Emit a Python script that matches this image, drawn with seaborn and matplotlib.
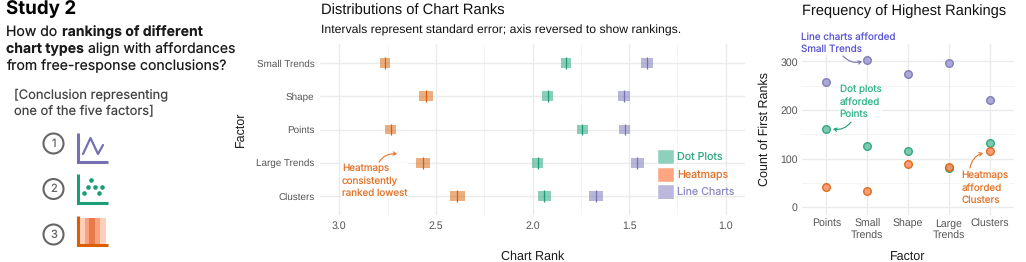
import matplotlib
matplotlib.use("Agg")
import matplotlib.pyplot as plt
from matplotlib.patches import Patch, Circle, Rectangle, FancyArrowPatch
import pandas as pd
import seaborn as sns

# data
factors = ["Small Trends", "Shape", "Points", "Large Trends", "Clusters"]
dot_rank = [1.827, 1.921, 1.742, 1.974, 1.939]
dot_se = [0.027, 0.029, 0.029, 0.028, 0.034]
heat_rank = [2.763, 2.553, 2.734, 2.568, 2.389]
heat_se = [0.026, 0.036, 0.028, 0.035, 0.040]
line_rank = [1.407, 1.525, 1.523, 1.457, 1.671]
line_se = [0.029, 0.031, 0.030, 0.032, 0.034]

count_factors = ["Points", "Small\nTrends", "Shape", "Large\nTrends", "Clusters"]
dot_count = [161, 127, 115, 80, 132]
heat_count = [42, 33, 90, 82, 116]
line_count = [258, 303, 274, 296, 221]

charts = ["Dot Plots", "Heatmaps", "Line Charts"]
colors = {"Dot Plots": "#1b9e77", "Heatmaps": "#d95f02", "Line Charts": "#7570b3"}
dot_fill = {"Dot Plots": "#66c2a5", "Heatmaps": "#fc8d62", "Line Charts": "#9d9bd0"}
legend_fill = {"Dot Plots": "#8dd0bb", "Heatmaps": "#fda681", "Line Charts": "#bcb8dc"}
legend_text = {"Dot Plots": "#2fa883", "Heatmaps": "#e2732b", "Line Charts": "#8f8ac5"}

sns.set_theme(style="white")
plt.rcParams["font.family"] = ["Liberation Sans", "DejaVu Sans"]
plt.rcParams["text.hinting"] = "none"

W, H = 1026, 262
fig = plt.figure(figsize=(W / 100, H / 100), dpi=100)


def make_axes(left, top, right, bottom):
    return fig.add_axes([left / W, 1 - bottom / H, (right - left) / W, (bottom - top) / H])


def style_axes(ax):
    sns.despine(ax=ax, left=True, bottom=True)
    ax.tick_params(length=0, labelsize=7.6, labelcolor="#555555", pad=3)
    ax.tick_params(which="minor", length=0)
    ax.set_axisbelow(True)


def note(text, x, y, color):
    fig.text(x / W, 1 - y / H, text, fontsize=7.1, family="Inter", color=color, va="center", ha="left",
             linespacing=1.38, bbox=dict(facecolor="white", edgecolor="none", pad=0.5), zorder=6)


def curve(x0, y0, x1, y1, color, rad):
    fig.add_artist(FancyArrowPatch(
        (x0 / W, 1 - y0 / H), (x1 / W, 1 - y1 / H), transform=fig.transFigure,
        arrowstyle="->,head_length=2,head_width=1.2", color=color, lw=0.8,
        connectionstyle=f"arc3,rad={rad}", zorder=7, shrinkA=0, shrinkB=0))


# --- middle panel
ranks = pd.DataFrame({
    "factor": factors * 3,
    "chart": [c for c in charts for _ in factors],
    "rank": dot_rank + heat_rank + line_rank,
    "se": dot_se + heat_se + line_se,
})
ax = make_axes(320, 44, 745, 215)
sns.stripplot(data=ranks, x="rank", y="factor", order=factors, hue="chart", palette=colors,
              jitter=False, marker="|", s=8.6, linewidth=0.9, legend=False, ax=ax, zorder=4)
for _, r in ranks.iterrows():
    ax.barh(factors.index(r["factor"]), 2 * r["se"], left=r["rank"] - r["se"], height=0.29,
            color=colors[r["chart"]], alpha=0.5, linewidth=0, zorder=3)
ax.set_xlim(3.1, 0.9)
ax.set_ylim(4.57, -0.57)
ax.set_xticks([3.0, 2.5, 2.0, 1.5, 1.0], ["3.0", "2.5", "2.0", "1.5", "1.0"])
ax.set_xticks([2.75, 2.25, 1.75, 1.25], minor=True)
ax.grid(True, which="major", color="#ebebeb", linewidth=1.0)
ax.grid(True, which="minor", axis="x", color="#f0f0f0", linewidth=0.5)
style_axes(ax)
ax.tick_params(axis="y", labelsize=7.1, pad=4)
ax.tick_params(axis="x", pad=4)
ax.set_xlabel("Chart Rank", fontsize=9.0, color="#1a1a1a", labelpad=14)
ax.set_ylabel("Factor", fontsize=9.0, color="#1a1a1a", labelpad=6)
handles = [Patch(facecolor=legend_fill[c], label=c) for c in charts]
leg = ax.legend(handles=handles, frameon=False, loc="lower left", bbox_to_anchor=(0.793, 0.094),
                fontsize=7.7, handlelength=1.6, handleheight=1.8, labelspacing=0.2, handletextpad=0.25,
                borderpad=0.0, borderaxespad=0)
for t, c in zip(leg.get_texts(), charts):
    t.set_color(legend_text[c])
    t.set_fontfamily("Inter")
fig.add_artist(Rectangle((658 / W, 1 - 199 / H), 16 / W, 1.3 / H, transform=fig.transFigure,
                         fc=legend_fill["Line Charts"], ec="none", zorder=5))
note("Heatmaps\nconsistently\nranked lowest", 342, 181, legend_text["Heatmaps"])
curve(379, 162, 397, 154, legend_text["Heatmaps"], -0.3)

# --- right panel
counts = pd.DataFrame({
    "factor": count_factors * 3,
    "chart": [c for c in charts for _ in count_factors],
    "count": dot_count + heat_count + line_count,
})
ax2 = make_axes(802, 44, 1014, 215)
for c in charts:
    sns.stripplot(data=counts[counts["chart"] == c], x="factor", y="count", order=count_factors,
                  color=dot_fill[c], edgecolor=colors[c], jitter=False, s=5.5, linewidth=1.0, alpha=0.85,
                  legend=False, ax=ax2, zorder=3)
ax2.set_xlim(-0.6, 4.6)
ax2.set_ylim(-16, 336)
ax2.set_yticks([0, 100, 200, 300])
ax2.set_yticks([50, 150, 250], minor=True)
ax2.grid(True, which="major", color="#ebebeb", linewidth=1.0)
ax2.grid(True, which="minor", axis="y", color="#f0f0f0", linewidth=0.5)
style_axes(ax2)
ax2.set_xlabel("Factor", fontsize=9.0, color="#1a1a1a", labelpad=7)
ax2.set_ylabel("Count of First Ranks", fontsize=9.0, color="#1a1a1a", labelpad=7)

note("Line charts afforded\nSmall Trends", 801, 43.5, "#5a55d6")
curve(843, 56, 862, 61.5, colors["Line Charts"], 0.3)
note("Dot plots\nafforded\nPoints", 839.5, 102, "#2fb388")
curve(851, 122, 833, 129, colors["Dot Plots"], -0.3)
note("Heatmaps\nafforded\nClusters", 961.5, 188, legend_text["Heatmaps"])
curve(970, 168, 983, 153, legend_text["Heatmaps"], -0.3)

# titles
fig.text(321 / W, 1 - 11 / H, "Distributions of Chart Ranks", fontsize=10.6, color="#111111", va="center")
fig.text(321 / W, 1 - 30.5 / H, "Intervals represent standard error; axis reversed to show rankings.",
         fontsize=8.82, color="#111111", va="center")
fig.text(802 / W, 1 - 11 / H, "Frequency of Highest Rankings", fontsize=10.55, color="#111111", va="center")

# --- left panel
fig.text(6 / W, 1 - 14.5 / H, "Study 2", fontsize=13.5, family="Inter", weight="bold", color="black", va="baseline")


def rich_line(x, y, parts, size=10.1):
    renderer = fig.canvas.get_renderer()
    for text, weight in parts:
        t = fig.text(x / W, 1 - y / H, text, fontsize=size, family="Inter", weight=weight,
                     color="#1a1a1a", va="baseline")
        x = t.get_window_extent(renderer).x1


rich_line(6.5, 36, [("How do ", "normal"), ("rankings of different", "bold")])
rich_line(6.5, 53, [("chart types ", "bold"), ("align with affordances", "normal")])
rich_line(6.5, 70, [("from free-response conclusions?", "normal")])
fig.text(14 / W, 1 - 103.5 / H, "[Conclusion representing\none of the five factors]", fontsize=9.3, family="Inter",
         color="#444444", va="center", linespacing=1.32)

# icons drawn in pixel coordinates on a transparent overlay
ov = fig.add_axes([0, 0, 1, 1], zorder=-1)
ov.set_xlim(0, W)
ov.set_ylim(H, 0)
ov.axis("off")
for num, cy in zip(["1", "2", "3"], [143.5, 189, 234.5]):
    ov.add_patch(Circle((53.5, cy), 10, fc="white", ec="#666666", lw=1.5))
    ov.text(53.5, cy, num, fontsize=8, family="Inter", color="#666666", ha="center", va="center")


def icon_axes(x, top, bottom, color):
    ov.plot([x, x, x + 30.5], [top, bottom, bottom], color=color, lw=2.2, solid_joinstyle="miter", solid_capstyle="butt")


icon_axes(77.5, 133, 162, colors["Line Charts"])
ov.plot([83, 90.5, 98, 103], [154, 138, 154, 145], color=colors["Line Charts"], lw=1.6)
icon_axes(77.5, 174, 203, colors["Dot Plots"])
ov.scatter([84, 87.5, 91, 95, 98.5, 102], [193, 187, 180, 187, 193, 187], s=11, color=colors["Dot Plots"], linewidth=0)
for x0, w, c in [(80, 5, "#fdd0bb"), (85, 4, "#fba27d"), (89, 6, "#e87a4a"), (95, 5, "#fba27d"), (100, 6, "#fdd0bb")]:
    ov.add_patch(Rectangle((x0, 218), w, 25.5, fc=c, ec="none"))
icon_axes(77.5, 216, 244.5, colors["Heatmaps"])

fig.savefig("out.png", dpi=100)
